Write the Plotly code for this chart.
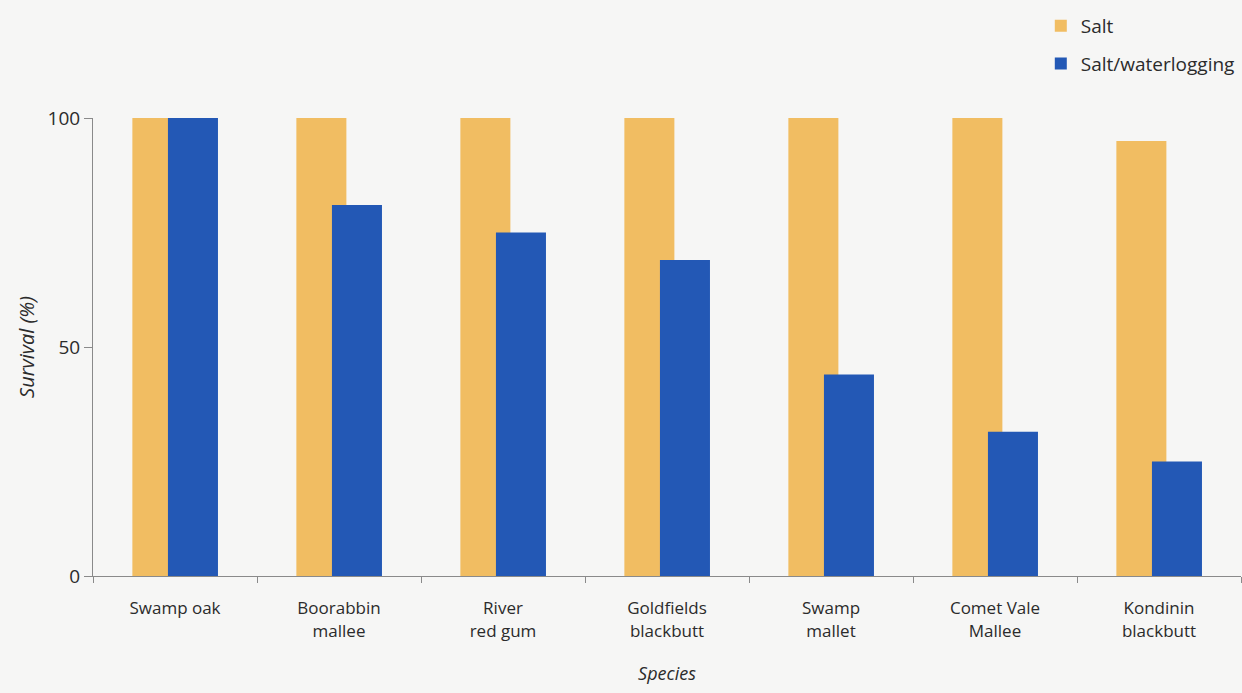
import plotly.graph_objects as go

species = [
    "Swamp oak",
    "Boorabbin<br>mallee",
    "River<br>red gum",
    "Goldfields<br>blackbutt",
    "Swamp<br>mallet",
    "Comet Vale<br>Mallee",
    "Kondinin<br>blackbutt",
]
salt = [100, 100, 100, 100, 100, 100, 95]
salt_waterlogging = [100, 81, 75, 69, 44, 31.5, 25]

y_ticks = [0, 50, 100]

ORANGE = "#F1BD62"
BLUE = "#2358B5"
TEXT = "#2b2b2b"
AXIS = "#8a8a8a"
FONT = "Open Sans, Lato, sans-serif"

fig = go.Figure()
fig.add_trace(go.Bar(
    x=species, y=salt, name="Salt",
    marker=dict(color=ORANGE, line=dict(width=0)),
    width=0.305, offset=-0.26,
    legendgroup="a",
))
fig.add_trace(go.Bar(
    x=species, y=salt_waterlogging, name="Salt/waterlogging",
    marker=dict(color=BLUE, line=dict(width=0)),
    width=0.305, offset=-0.043,
    legendgroup="b",
))

fig.update_layout(
    width=1242, height=693,
    barmode="overlay",
    paper_bgcolor="#f6f6f5",
    plot_bgcolor="#f6f6f5",
    margin=dict(l=93, r=1, t=118, b=117, autoexpand=False),
    font=dict(family=FONT, size=17, color=TEXT),
    showlegend=True,
    legend=dict(
        xref="container", yref="container",
        x=0.838, y=0.99, xanchor="left", yanchor="top",
        traceorder="grouped", tracegroupgap=10,
        font=dict(size=19, color=TEXT),
        bgcolor="rgba(0,0,0,0)",
    ),
    xaxis=dict(
        type="category",
        range=[-0.5, 6.5],
        showline=True, linecolor=AXIS, linewidth=1,
        ticks="outside", tickson="boundaries", ticklen=6, tickcolor=AXIS,
        showgrid=False, zeroline=False,
        tickfont=dict(size=17, color=TEXT),
        ticklabelstandoff=17,
        title=dict(text="<i>Species</i>", font=dict(size=18, color=TEXT), standoff=26),
    ),
    yaxis=dict(
        range=[0, 100],
        tickvals=y_ticks,
        showline=True, linecolor=AXIS, linewidth=1,
        ticks="outside", ticklen=8, tickcolor=AXIS,
        showgrid=False, zeroline=False,
        tickfont=dict(size=19, color=TEXT),
        title=dict(text="<i>Survival (%)</i>", font=dict(size=20, color=TEXT), standoff=7),
    ),
)

fig.write_html("out.html")
